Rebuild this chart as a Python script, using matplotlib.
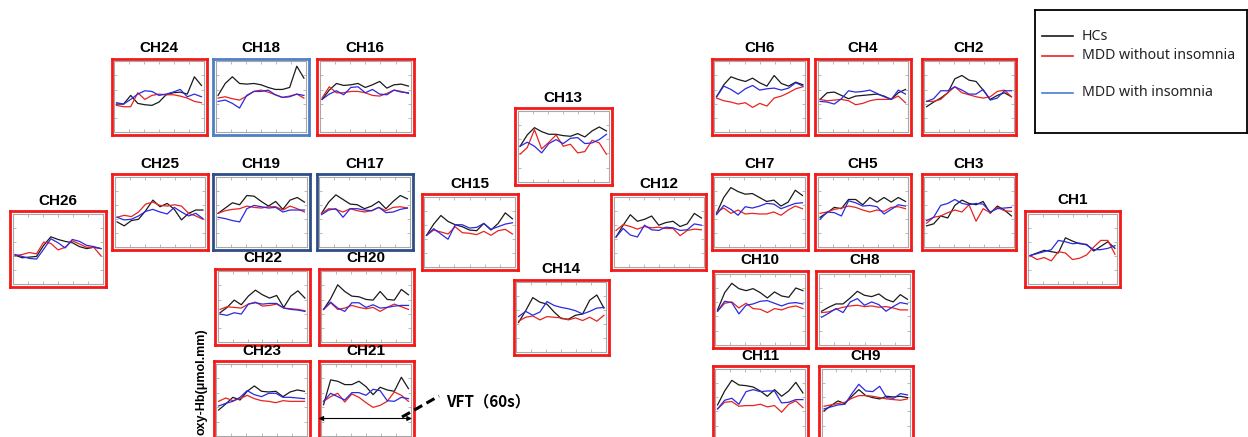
import matplotlib
matplotlib.use("Agg")
import matplotlib.pyplot as plt
from matplotlib.lines import Line2D
import numpy as np

# ---------------- data (relative oxy-Hb, arbitrary units 0-10) ----------------
time_s = [0, 5, 10, 15, 20, 25, 30, 35, 40, 45, 50, 55, 60]
series_labels = ["HCs", "MDD without insomnia", "MDD with insomnia"]

ch1 = dict(hc=[4.0, 4.4, 4.8, 4.6, 4.4, 6.7, 6.2, 5.8, 5.7, 4.7, 5.4, 6.1, 5.1],
           mdd=[4.0, 3.4, 3.7, 3.2, 4.6, 4.4, 3.4, 3.6, 4.1, 5.3, 6.3, 6.3, 4.2],
           ins=[4.0, 4.3, 4.6, 4.9, 6.3, 6.1, 5.8, 5.9, 5.6, 4.9, 4.9, 5.1, 5.5])
ch2 = dict(hc=[3.5, 4.2, 4.8, 5.6, 7.7, 8.2, 7.5, 7.3, 6.0, 4.6, 5.2, 5.6, 5.0],
           mdd=[4.3, 4.3, 4.6, 5.6, 6.5, 5.6, 5.3, 5.0, 4.8, 5.0, 5.8, 6.0, 5.0],
           ins=[4.3, 4.7, 5.9, 5.9, 6.5, 6.0, 5.4, 5.4, 6.1, 4.5, 4.8, 5.9, 5.9])
ch3 = dict(hc=[2.9, 3.2, 4.4, 4.1, 6.0, 6.8, 6.3, 6.1, 6.6, 4.8, 5.9, 5.3, 4.4],
           mdd=[3.3, 4.2, 4.4, 4.9, 5.3, 5.0, 6.1, 3.6, 5.5, 4.9, 5.7, 5.2, 5.1],
           ins=[3.7, 4.2, 6.0, 6.3, 6.9, 6.3, 6.1, 6.3, 6.2, 5.0, 5.5, 5.6, 5.7])
ch4 = dict(hc=[4.6, 5.6, 5.7, 5.2, 4.7, 5.1, 5.2, 5.3, 5.4, 5.1, 4.6, 5.6, 6.1],
           mdd=[4.6, 4.4, 4.5, 4.6, 4.4, 3.8, 4.0, 4.4, 4.6, 4.6, 4.6, 5.1, 4.1],
           ins=[4.3, 4.2, 3.9, 4.7, 5.9, 5.7, 5.8, 6.0, 5.5, 5.0, 4.6, 6.0, 5.4])
ch5 = dict(hc=[4.2, 4.9, 5.7, 5.5, 6.9, 6.9, 6.1, 7.2, 6.5, 7.2, 6.5, 7.2, 6.6],
           mdd=[4.8, 5.0, 5.4, 5.6, 5.9, 5.7, 5.3, 5.0, 5.3, 5.1, 5.7, 5.8, 5.5],
           ins=[3.9, 5.0, 4.9, 4.4, 6.7, 6.4, 5.9, 6.0, 5.8, 4.7, 5.4, 6.1, 5.9])
ch6 = dict(hc=[5.0, 6.8, 8.0, 7.6, 7.3, 7.8, 7.1, 6.6, 8.2, 7.0, 6.6, 7.2, 6.8],
           mdd=[4.8, 4.4, 4.2, 3.9, 4.1, 3.4, 4.0, 3.6, 4.8, 5.1, 5.6, 6.2, 6.5],
           ins=[5.0, 6.6, 6.1, 5.4, 6.2, 6.7, 6.0, 6.2, 6.3, 6.0, 6.3, 7.1, 6.6])
ch7 = dict(hc=[4.8, 7.2, 8.7, 8.1, 7.7, 7.8, 7.2, 6.6, 6.8, 5.9, 6.5, 8.3, 7.5],
           mdd=[5.0, 5.6, 4.8, 5.3, 4.7, 4.8, 4.7, 4.7, 5.0, 4.5, 5.3, 5.9, 5.5],
           ins=[4.6, 6.0, 5.4, 4.5, 5.8, 5.6, 5.9, 6.3, 6.2, 5.5, 5.9, 6.3, 6.4])
ch8 = dict(hc=[4.7, 5.3, 5.8, 5.8, 6.7, 7.7, 7.1, 6.9, 7.3, 6.5, 6.1, 7.2, 6.5],
           mdd=[4.5, 4.6, 5.0, 5.3, 5.5, 5.6, 5.4, 5.5, 5.3, 5.4, 5.2, 4.9, 4.9],
           ins=[3.8, 4.4, 5.1, 4.5, 6.1, 6.6, 5.6, 6.1, 5.7, 4.7, 5.4, 6.0, 5.8])
ch9 = dict(hc=[4.0, 4.8, 5.5, 5.1, 6.2, 7.2, 6.3, 6.0, 5.8, 6.2, 6.1, 6.2, 6.0],
           mdd=[4.7, 4.9, 5.1, 5.3, 5.9, 6.3, 6.3, 6.2, 6.0, 5.8, 5.7, 5.6, 5.8],
           ins=[4.3, 4.6, 4.9, 5.0, 6.6, 8.0, 7.0, 6.9, 7.7, 6.0, 5.9, 6.6, 6.4])
ch10 = dict(hc=[4.9, 7.5, 8.9, 8.1, 7.8, 8.1, 7.5, 6.7, 7.6, 7.0, 6.8, 8.2, 7.8],
            mdd=[4.7, 5.9, 6.1, 5.2, 5.9, 5.1, 5.0, 4.5, 5.1, 4.9, 5.3, 5.5, 5.1],
            ins=[4.7, 6.2, 6.0, 4.3, 5.6, 5.8, 6.2, 6.3, 5.9, 5.5, 5.9, 6.0, 5.8])
ch11 = dict(hc=[4.9, 7.0, 8.6, 7.9, 7.8, 7.6, 7.0, 6.2, 7.2, 6.2, 7.0, 8.3, 6.7],
            mdd=[4.3, 5.3, 5.4, 4.7, 4.8, 4.8, 5.0, 4.6, 4.8, 3.8, 5.0, 5.5, 4.5],
            ins=[4.3, 5.6, 5.9, 5.0, 6.9, 7.2, 6.9, 7.0, 7.0, 5.2, 5.3, 5.7, 5.7])
ch12 = dict(hc=[4.2, 6.0, 7.6, 6.6, 6.9, 7.4, 6.0, 6.4, 6.6, 5.8, 6.2, 7.8, 7.1],
            mdd=[5.2, 6.1, 5.8, 5.4, 5.8, 5.6, 5.7, 5.5, 5.5, 4.4, 5.2, 5.4, 5.3],
            ins=[4.2, 5.5, 4.5, 4.2, 6.0, 5.3, 5.2, 5.7, 5.6, 5.2, 5.3, 6.2, 6.0])
ch13 = dict(hc=[5.0, 6.7, 7.8, 7.2, 6.8, 6.8, 6.6, 6.5, 6.9, 6.4, 7.3, 7.9, 7.3],
            mdd=[3.8, 4.8, 7.5, 4.6, 5.6, 6.7, 5.0, 5.3, 4.0, 4.2, 5.9, 5.5, 3.8],
            ins=[5.0, 5.6, 5.0, 4.0, 5.4, 6.0, 5.4, 6.2, 6.3, 5.4, 5.5, 6.0, 6.8])
ch14 = dict(hc=[4.2, 6.0, 8.0, 7.3, 7.0, 5.8, 4.8, 4.7, 5.3, 5.5, 7.6, 8.4, 6.4],
            mdd=[4.4, 5.0, 5.2, 4.6, 5.1, 5.0, 4.9, 4.6, 4.9, 4.5, 5.0, 4.4, 5.3],
            ins=[5.1, 5.9, 5.3, 5.8, 7.4, 6.8, 6.5, 6.3, 6.0, 5.5, 5.9, 6.4, 6.5])
ch15 = dict(hc=[4.5, 6.2, 7.5, 6.6, 6.1, 5.8, 5.3, 5.2, 6.3, 5.3, 6.3, 7.9, 7.0],
            mdd=[4.5, 5.3, 5.0, 4.7, 5.8, 4.9, 4.8, 4.6, 5.1, 4.5, 5.2, 5.4, 4.7],
            ins=[4.5, 5.5, 4.7, 3.9, 6.1, 6.1, 5.6, 5.7, 6.3, 5.4, 5.8, 6.2, 6.4])
ch16 = dict(hc=[4.6, 6.0, 7.0, 6.7, 6.8, 7.0, 6.4, 6.8, 7.3, 6.3, 6.8, 6.9, 6.6],
            mdd=[4.8, 6.5, 5.6, 5.6, 5.8, 5.8, 5.6, 5.2, 5.1, 5.5, 6.0, 5.8, 5.5],
            ins=[4.6, 5.4, 5.9, 5.3, 6.4, 6.5, 5.6, 6.1, 5.4, 5.3, 6.0, 5.7, 5.6])
ch17 = dict(hc=[4.8, 6.5, 7.6, 6.9, 6.2, 6.1, 5.5, 5.9, 6.6, 5.5, 6.6, 7.5, 7.0],
            mdd=[4.8, 5.5, 5.4, 5.0, 5.5, 5.2, 5.0, 5.2, 5.7, 5.2, 5.7, 5.8, 5.6],
            ins=[4.6, 5.3, 5.5, 4.2, 5.5, 5.5, 5.3, 5.2, 5.7, 4.9, 5.0, 5.4, 5.6])
ch18 = dict(hc=[5.2, 7.0, 8.0, 7.0, 6.9, 7.0, 6.8, 6.4, 6.1, 6.1, 6.4, 9.6, 7.8],
            mdd=[4.8, 5.0, 4.7, 4.5, 5.1, 5.8, 6.0, 5.7, 5.3, 4.9, 5.1, 5.4, 4.8],
            ins=[4.3, 4.5, 4.0, 3.3, 5.2, 5.8, 5.8, 6.0, 5.3, 4.9, 5.0, 5.4, 5.2])
ch19 = dict(hc=[4.8, 5.6, 6.4, 6.1, 7.5, 7.4, 6.6, 5.9, 6.6, 5.4, 6.8, 7.2, 6.5],
            mdd=[4.8, 5.2, 5.4, 5.5, 5.9, 5.7, 5.6, 5.8, 5.8, 5.3, 5.9, 5.5, 5.0],
            ins=[4.2, 4.0, 3.7, 3.5, 5.5, 6.0, 5.8, 5.6, 5.7, 5.0, 5.3, 5.3, 5.3])
ch20 = dict(hc=[4.6, 6.2, 8.3, 7.3, 6.6, 6.5, 6.1, 6.0, 7.3, 6.1, 6.0, 7.6, 6.8],
            mdd=[4.6, 5.6, 4.6, 4.8, 5.2, 4.9, 4.7, 4.9, 4.3, 4.9, 5.4, 5.0, 4.6],
            ins=[4.6, 5.7, 4.8, 4.3, 5.6, 5.6, 4.9, 5.3, 4.8, 4.9, 5.1, 5.2, 5.2])
ch21 = dict(hc=[4.3, 8.0, 7.8, 7.3, 7.3, 7.8, 7.0, 5.8, 6.9, 6.5, 6.3, 8.4, 6.7],
            mdd=[4.8, 5.5, 6.0, 4.7, 5.9, 5.4, 4.6, 3.9, 4.2, 4.8, 6.2, 5.7, 4.8],
            ins=[4.8, 6.0, 5.5, 5.0, 6.1, 6.1, 5.7, 6.6, 6.4, 4.9, 4.8, 5.4, 5.2])
ch22 = dict(hc=[4.1, 4.9, 6.0, 5.3, 6.6, 7.5, 6.8, 6.3, 6.7, 4.9, 6.6, 7.4, 6.3],
            mdd=[4.6, 5.0, 4.9, 4.8, 5.4, 5.7, 5.1, 5.2, 5.4, 4.8, 4.7, 4.6, 4.4],
            ins=[3.9, 3.7, 4.1, 3.9, 5.4, 5.6, 5.4, 5.5, 5.5, 4.8, 4.6, 4.5, 4.3])
ch23 = dict(hc=[3.5, 4.4, 5.4, 5.0, 6.3, 7.1, 6.3, 6.2, 6.3, 5.5, 6.2, 6.5, 6.3],
            mdd=[4.8, 5.3, 4.9, 5.2, 5.7, 5.2, 4.9, 4.8, 4.6, 4.9, 4.8, 4.8, 4.8],
            ins=[4.1, 4.5, 4.8, 5.4, 6.4, 5.8, 5.5, 6.0, 6.0, 5.4, 5.4, 5.3, 5.2])
ch24 = dict(hc=[3.9, 3.9, 5.2, 4.0, 3.8, 3.7, 4.2, 5.3, 5.6, 5.7, 5.4, 8.0, 6.7],
            mdd=[3.7, 3.5, 3.5, 5.6, 4.6, 5.2, 5.4, 5.3, 5.3, 5.1, 4.8, 4.3, 4.1],
            ins=[4.1, 3.9, 4.6, 5.4, 5.9, 5.8, 5.2, 5.4, 5.7, 6.1, 5.0, 5.4, 5.0])
ch25 = dict(hc=[3.5, 2.9, 3.7, 3.9, 5.2, 6.8, 5.8, 6.3, 5.4, 3.8, 4.8, 5.3, 5.3],
            mdd=[4.2, 4.5, 4.3, 5.0, 6.2, 6.5, 6.0, 5.9, 6.1, 5.9, 4.8, 4.4, 3.9],
            ins=[4.2, 3.8, 3.9, 4.4, 5.1, 5.4, 5.0, 4.7, 5.7, 5.0, 4.4, 4.8, 4.0])
ch26 = dict(hc=[4.1, 3.7, 3.8, 3.9, 5.6, 6.9, 6.5, 6.2, 6.0, 5.4, 5.1, 5.3, 5.1],
            mdd=[4.0, 4.2, 4.5, 4.3, 6.1, 5.9, 4.9, 5.3, 6.3, 5.8, 5.3, 5.3, 4.0],
            ins=[4.2, 3.9, 3.6, 3.5, 5.0, 6.6, 6.0, 5.2, 6.5, 6.2, 5.6, 5.4, 5.1])

# ---------------- layout (pixel boxes: left, top, right, bottom) ----------------
W, H = 1248, 437
RED, LBLUE, DBLUE = "#f31a1a", "#4f7fc6", "#2f4e88"
panels = [
    ("CH24", ch24, (111.5, 58.5, 206.5, 135), RED),
    ("CH18", ch18, (213, 58.5, 309, 135), LBLUE),
    ("CH16", ch16, (317, 58.5, 413.5, 135), RED),
    ("CH13", ch13, (515, 108, 611.5, 184.5), RED),
    ("CH6", ch6, (711.5, 58.5, 808, 135), RED),
    ("CH4", ch4, (815, 58.5, 910.5, 135), RED),
    ("CH2", ch2, (921.5, 58.5, 1016.5, 135), RED),
    ("CH26", ch26, (10, 211.5, 106, 287), RED),
    ("CH25", ch25, (112, 174, 208, 250), RED),
    ("CH19", ch19, (213, 174, 309.5, 250), DBLUE),
    ("CH17", ch17, (316.5, 174, 412.5, 250), DBLUE),
    ("CH15", ch15, (421.5, 194, 517.5, 270), RED),
    ("CH12", ch12, (611, 194, 706.5, 269.5), RED),
    ("CH14", ch14, (513.5, 279.5, 609, 355), RED),
    ("CH7", ch7, (711.5, 174, 807.5, 250), RED),
    ("CH5", ch5, (815, 174, 910.5, 250), RED),
    ("CH3", ch3, (921.5, 174, 1016.5, 250), RED),
    ("CH1", ch1, (1025, 211, 1120, 287), RED),
    ("CH22", ch22, (215, 268.5, 310, 345), RED),
    ("CH20", ch20, (318.5, 268.5, 413.5, 345), RED),
    ("CH23", ch23, (213.5, 361.5, 309.5, 438.5), RED),
    ("CH21", ch21, (318.5, 361.5, 413.5, 438.5), RED),
    ("CH10", ch10, (712.5, 271, 808, 347.5), RED),
    ("CH8", ch8, (816.5, 271, 912.5, 347.5), RED),
    ("CH11", ch11, (712.5, 366, 808, 442.5), RED),
    ("CH9", ch9, (819, 366, 912.5, 442.5), RED),
]
line_colors = {"hc": "#1a1a1a", "mdd": "#e8231e", "ins": "#2a2ae0"}


def fig_rect(l, t, r, b):
    return [l / W, 1 - b / H, (r - l) / W, (b - t) / H]


fig = plt.figure(figsize=(W / 100, H / 100), dpi=100)
fig.patch.set_facecolor("white")

for name, d, (l, t, r, b), fcol in panels:
    # outer coloured frame
    fr = fig.add_axes(fig_rect(l, t, r, b))
    fr.set_xticks([]); fr.set_yticks([])
    fr.patch.set_alpha(0)
    for s in fr.spines.values():
        s.set_color(fcol); s.set_linewidth(2.0)
    # inner grey axes
    pad = 2.6
    ax = fig.add_axes(fig_rect(l + pad, t + pad, r - pad, b - pad))
    ax.set_facecolor("white")
    for key in ("hc", "mdd", "ins"):
        ax.plot(time_s, d[key], color=line_colors[key], lw=0.9)
    # the inner axes is inset, so widen limits to keep outer-frame mapping
    xin = 60 * pad / (r - l - 2 * pad)
    yin = 10 * pad / (b - t - 2 * pad)
    ax.set_xlim(-xin, 60 + xin)
    ax.set_ylim(-yin, 10 + yin)
    ax.set_xticks(np.linspace(-xin, 60 + xin, 7)[1:-1])
    ax.set_yticks(np.linspace(-yin, 10 + yin, 6)[1:-1])
    ax.tick_params(direction="in", length=2, width=0.6, colors="#b0b0b0",
                   top=True, right=True, labelbottom=False, labelleft=False)
    for s in ax.spines.values():
        s.set_color("#a8a8a8"); s.set_linewidth(0.8)
    fig.text((l + r) / 2 / W, 1 - (t - 3.5) / H, name, ha="center", va="bottom",
             fontsize=11, fontweight="bold", family="Liberation Sans")

# ---------------- legend ----------------
lg = fig.add_axes(fig_rect(1035, 10, 1246.5, 133))
lg.set_xlim(1035, 1246.5); lg.set_ylim(133, 10)
lg.set_xticks([]); lg.set_yticks([])
for s in lg.spines.values():
    s.set_color("black"); s.set_linewidth(1.3)
leg_cols = ["#1a1a1a", "#f02020", "#4a7dd0"]
leg_y = [36, 55.5, 93]
for lab, c, yy in zip(series_labels, leg_cols, leg_y):
    lg.add_line(Line2D([1042, 1073], [yy, yy], color=c, lw=1.2))
    lg.text(1082, yy, lab, va="center", ha="left", fontsize=10.2,
            family="Noto Sans", color="#222222")

# ---------------- y label & VFT annotation ----------------
fig.text(201 / W, 1 - 435 / H, "oxy-Hb(μmol.mm)", rotation=90, ha="center", va="bottom",
         fontsize=9, fontweight="bold", family="Liberation Sans")

ov = fig.add_axes([0, 0, 1, 1])
ov.set_xlim(0, W); ov.set_ylim(H, 0)
ov.axis("off")
ov.patch.set_alpha(0)
ov.annotate("", xy=(412, 418.5), xytext=(318.5, 418.5),
            arrowprops=dict(arrowstyle="<|-|>", color="black", lw=0.8,
                            mutation_scale=7, shrinkA=0, shrinkB=0))
ov.plot([402, 439], [417, 396], color="black", lw=2.2, ls=(0, (3, 1.6)))
ov.text(446, 401, "VFT（60s）", ha="left", va="center", fontsize=11,
        family=["Noto Sans CJK SC", "DejaVu Sans"], fontweight="bold")

fig.savefig("out.png", dpi=100)
